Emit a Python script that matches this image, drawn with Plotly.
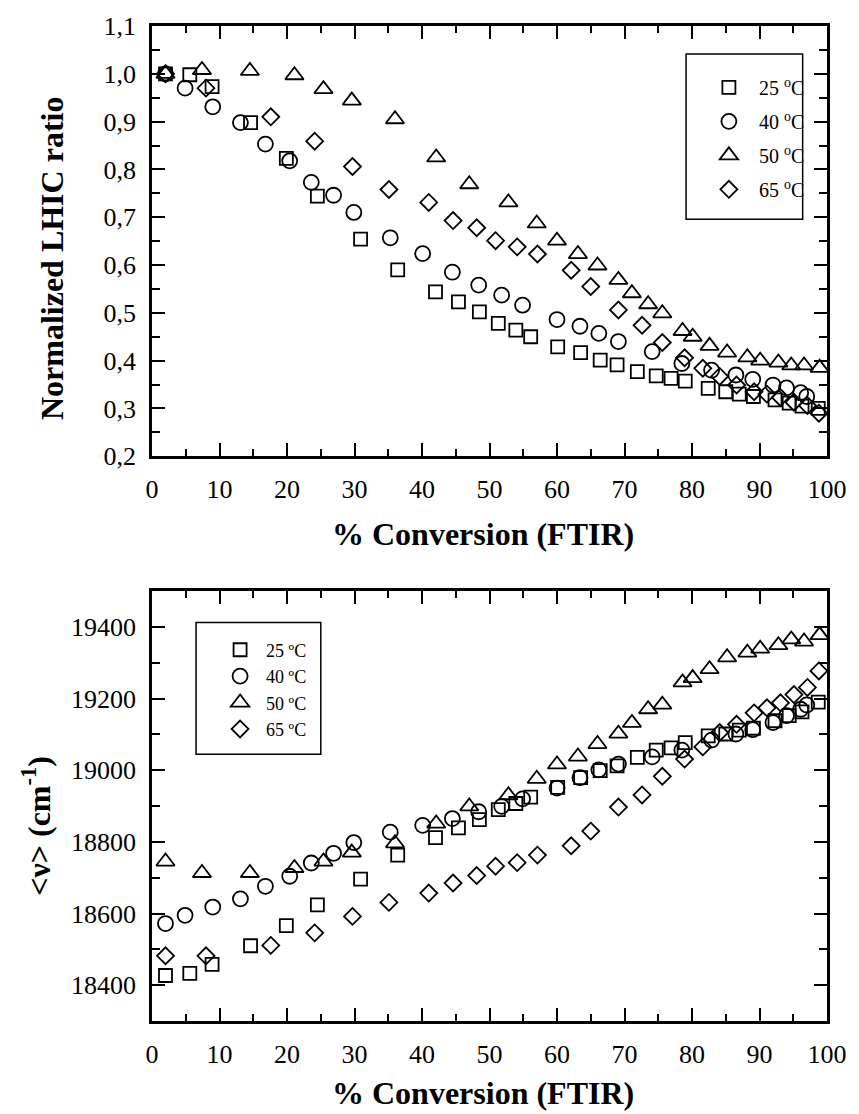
import plotly.graph_objects as go

# ---------------- data ----------------
temps = ["25", "40", "50", "65"]

conv25 = [2.0, 5.6, 8.9, 14.6, 19.9, 24.5, 30.9, 36.4, 42.0, 45.4, 48.5, 51.3, 53.9, 56.1, 60.1,
          63.5, 66.4, 68.9, 71.9, 74.7, 76.9, 79.0, 82.4, 85.0, 87.0, 89.1, 92.3, 94.4, 96.3, 98.7]
ratio25 = [1.0, 0.998, 0.973, 0.898, 0.823, 0.744, 0.654, 0.59, 0.544, 0.523, 0.502, 0.478, 0.464, 0.45, 0.429,
           0.417, 0.401, 0.391, 0.377, 0.368, 0.363, 0.357, 0.342, 0.335, 0.33, 0.325, 0.318, 0.311, 0.305, 0.30]
nu25 = [18427, 18433, 18458, 18510, 18566, 18624, 18696, 18763, 18812, 18839, 18862, 18890, 18907, 18925, 18952,
        18979, 18999, 19012, 19036, 19056, 19062, 19077, 19096, 19101, 19112, 19117, 19138, 19152, 19163, 19190]

conv40 = [2.0, 4.9, 9.0, 13.1, 16.8, 20.4, 23.6, 26.9, 29.9, 35.3, 40.1, 44.5, 48.4, 51.8,
          54.9, 60.0, 63.4, 66.2, 69.1, 74.1, 78.5, 82.9, 86.5, 89.0, 92.0, 94.0, 96.1, 97.0]
ratio40 = [1.0, 0.970, 0.931, 0.898, 0.853, 0.818, 0.773, 0.746, 0.71, 0.657, 0.624, 0.585, 0.558, 0.537,
           0.516, 0.486, 0.472, 0.457, 0.44, 0.419, 0.394, 0.38, 0.37, 0.361, 0.349, 0.343, 0.333, 0.325]
nu40 = [18572, 18595, 18618, 18641, 18676, 18704, 18741, 18768, 18798, 18827, 18846, 18865, 18884, 18899,
        18920, 18950, 18979, 19001, 19017, 19037, 19056, 19084, 19101, 19113, 19133, 19152, 19170, 19182]

conv50 = [2.0, 7.4, 14.5, 21.1, 25.4, 29.6, 36.0, 42.1, 47.0, 52.8, 57.0, 60.0, 63.1, 66.0,
          69.1, 71.1, 73.5, 75.6, 78.6, 80.1, 82.6, 85.2, 88.2, 90.1, 92.8, 94.7, 96.6, 98.9]
ratio50 = [1.0, 1.008, 1.006, 0.997, 0.968, 0.944, 0.905, 0.825, 0.769, 0.731, 0.687, 0.651, 0.623, 0.599,
           0.569, 0.541, 0.518, 0.499, 0.462, 0.45, 0.431, 0.417, 0.407, 0.4, 0.396, 0.39, 0.39, 0.385]
nu50 = [18745, 18713, 18713, 18727, 18745, 18770, 18796, 18851, 18899, 18930, 18976, 19016, 19038, 19073,
        19102, 19132, 19170, 19183, 19245, 19257, 19282, 19315, 19328, 19339, 19349, 19365, 19359, 19377]

conv65 = [2.0, 8.0, 17.6, 24.1, 29.7, 35.1, 41.0, 44.6, 48.1, 50.9, 54.1, 57.1, 62.1, 65.0,
          69.1, 72.6, 75.6, 78.9, 81.6, 84.1, 86.6, 89.2, 91.1, 93.1, 95.1, 97.1, 98.8]
ratio65 = [1.0, 0.97, 0.91, 0.859, 0.806, 0.758, 0.731, 0.693, 0.678, 0.651, 0.638, 0.623, 0.589, 0.555,
           0.506, 0.474, 0.438, 0.406, 0.384, 0.367, 0.349, 0.335, 0.330, 0.323, 0.313, 0.306, 0.29]
nu65 = [18482, 18482, 18511, 18546, 18592, 18631, 18657, 18685, 18706, 18732, 18742, 18763, 18789, 18830,
        18897, 18931, 18983, 19031, 19065, 19105, 19128, 19160, 19174, 19188, 19211, 19231, 19277]

x_ticks = [0, 10, 20, 30, 40, 50, 60, 70, 80, 90, 100]
ratio_ticks = [0.2, 0.3, 0.4, 0.5, 0.6, 0.7, 0.8, 0.9, 1.0, 1.1]
ratio_ticktext = ["0,2", "0,3", "0,4", "0,5", "0,6", "0,7", "0,8", "0,9", "1,0", "1,1"]
nu_ticks = [18400, 18600, 18800, 19000, 19200, 19400]
nu_ticktext = ["18400", "18600", "18800", "19000", "19200", "19400"]

# ---------------- styling ----------------
FONT = "Liberation Serif"
symbols = ["square-open", "circle-open", "triangle-up-open", "diamond-open"]
sizes = [13, 15, 16, 13]
convs = [conv25, conv40, conv50, conv65]
ratios = [ratio25, ratio40, ratio50, ratio65]
nus = [nu25, nu40, nu50, nu65]

fig = go.Figure()
for i, t in enumerate(temps):
    fig.add_trace(go.Scatter(
        x=convs[i], y=ratios[i], mode="markers", xaxis="x", yaxis="y",
        name=f"{t} <sup>o</sup>C", legend="legend", legendgroup=f"top{t}",
        marker=dict(symbol=symbols[i], size=sizes[i], color="black", line=dict(width=1.8, color="black")),
        cliponaxis=False,
    ))
for i, t in enumerate(temps):
    fig.add_trace(go.Scatter(
        x=convs[i], y=nus[i], mode="markers", xaxis="x2", yaxis="y2",
        name=f"{t} ºC", legend="legend2", legendgroup=f"bot{t}",
        marker=dict(symbol=symbols[i], size=sizes[i], color="black", line=dict(width=1.8, color="black")),
        cliponaxis=False,
    ))

axis_common = dict(
    showline=True, linewidth=2.6, linecolor="black", mirror="allticks",
    ticks="inside", ticklen=13, tickwidth=2, tickcolor="black",
    showgrid=False, zeroline=False,
    tickfont=dict(family=FONT, size=26, color="black"),
    ticklabelstandoff=8,
)

top_bottom = (1021 - 454) / 999
bot_top = (1021 - 589.3) / 999

fig.update_layout(
    width=859, height=1114,
    margin=dict(l=152, r=22, t=22, b=93),
    paper_bgcolor="white", plot_bgcolor="white",
    showlegend=True,
    xaxis=dict(domain=[0, 1], anchor="y", range=[0, 100], tickvals=x_ticks,
               minor=dict(dtick=5, tick0=0, ticks="inside", ticklen=7, tickwidth=2, tickcolor="black"),
               **axis_common),
    yaxis=dict(domain=[top_bottom, 1], anchor="x", range=[0.2, 1.1], tickvals=ratio_ticks,
               ticktext=ratio_ticktext,
               minor=dict(dtick=0.05, tick0=0.2, ticks="inside", ticklen=8, tickwidth=2, tickcolor="black"),
               **axis_common),
    xaxis2=dict(domain=[0, 1], anchor="y2", range=[0, 100], tickvals=x_ticks,
                minor=dict(dtick=5, tick0=0, ticks="inside", ticklen=7, tickwidth=2, tickcolor="black"),
                **axis_common),
    yaxis2=dict(domain=[0, bot_top], anchor="x2", range=[18300, 19500], tickvals=nu_ticks,
                ticktext=nu_ticktext,
                minor=dict(dtick=100, tick0=18300, ticks="inside", ticklen=8, tickwidth=2, tickcolor="black"),
                **axis_common),
    legend=dict(x=(707 - 152) / 685, y=(1021 - 64) / 999, xanchor="left", yanchor="top",
                bgcolor="rgba(0,0,0,0)", borderwidth=0, itemwidth=50,
                font=dict(family=FONT, size=20, color="black"),
                tracegroupgap=5),
    legend2=dict(x=(215 - 152) / 685, y=(1021 - 630) / 999, xanchor="left", yanchor="top",
                 bgcolor="rgba(0,0,0,0)", borderwidth=0, itemwidth=42,
                 font=dict(family=FONT, size=18, color="black"),
                 tracegroupgap=0),
)

# legend frames
fig.add_shape(type="rect", xref="paper", yref="paper",
              x0=(694 - 152) / 685, x1=(812.3 - 152) / 685,
              y0=(1021 - 216) / 999, y1=(1021 - 50) / 999,
              line=dict(color="black", width=1.5))
fig.add_shape(type="rect", xref="paper", yref="paper",
              x0=(196.7 - 152) / 685, x1=(323.3 - 152) / 685,
              y0=(1021 - 753.3) / 999, y1=(1021 - 621) / 999,
              line=dict(color="black", width=1.5))

title_font = dict(family=FONT, size=32, color="black")
fig.add_annotation(text="<b>% Conversion (FTIR)</b>", xref="paper", yref="paper",
                   x=0.49, y=(1021 - 532) / 999, xanchor="center", yanchor="middle",
                   showarrow=False, font=title_font)
fig.add_annotation(text="<b>% Conversion (FTIR)</b>", xref="paper", yref="paper",
                   x=0.49, y=(1021 - 1093) / 999, xanchor="center", yanchor="middle",
                   showarrow=False, font=title_font)
fig.add_annotation(text="<b>Normalized LHIC ratio</b>", xref="paper", yref="paper",
                   x=0, xshift=52 - 152, y=(1021 - 255) / 999, xanchor="center", yanchor="middle",
                   textangle=-90, showarrow=False, font=title_font)
fig.add_annotation(text="<b>&lt;ν&gt; (cm<sup>-1</sup>)</b>", xref="paper", yref="paper",
                   x=0, xshift=36 - 152, y=(1021 - 825) / 999, xanchor="center", yanchor="middle",
                   textangle=-90, showarrow=False, font=title_font)

fig.write_html("out.html")
